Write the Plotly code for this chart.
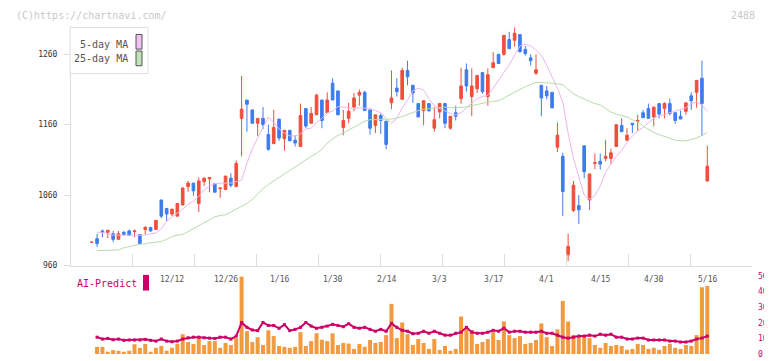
import plotly.graph_objects as go

# page is 772x361; the HTML body has an 8px margin, so the figure is 764x353
PAGE_W, PAGE_H = 772, 361
OFF = 8
W, H = PAGE_W - OFF, PAGE_H - OFF

# ---------------- data ----------------
idx = list(range(116))

opens = [993, 998, 1009, 1007, 1005, 997, 1007, 1009, 1008, 1004,
         1011, 1014, 1011, 1053, 1041, 1033, 1030, 1046, 1072, 1077,
         1048, 1079, 1083, 1076, 1069, 1068, 1084, 1072, 1169, 1195,
         1181, 1162, 1169, 1146, 1133, 1168, 1140, 1152, 1138, 1129,
         1183, 1162, 1174, 1195, 1177, 1219, 1208, 1156, 1169, 1185,
         1202, 1206, 1181, 1159, 1173, 1165, 1191, 1212, 1196, 1237,
         1216, 1190, 1180, 1190, 1155, 1178, 1190, 1155, 1177, 1197,
         1238, 1200, 1211, 1234, 1200, 1241, 1260, 1260, 1281, 1280,
         1288, 1267, 1255, 1233, 1216, 1208, 1206, 1128, 1115, 975,
         1038, 1045, 1130, 1053, 1105, 1108, 1112, 1112, 1129, 1159,
         1138, 1162, 1165, 1177, 1183, 1171, 1190, 1183, 1190, 1177,
         1172, 1179, 1201, 1206, 1226, 1080]
highs = [993, 1005, 1011, 1010, 1009, 1009, 1009, 1011, 1011, 1004,
         1016, 1014, 1024, 1053, 1041, 1040, 1048, 1071, 1080, 1077,
         1085, 1085, 1085, 1076, 1070, 1087, 1091, 1109, 1229, 1195,
         1181, 1169, 1185, 1160, 1181, 1168, 1152, 1152, 1145, 1190,
         1183, 1185, 1204, 1195, 1206, 1226, 1208, 1181, 1191, 1205,
         1210, 1208, 1181, 1174, 1176, 1165, 1237, 1226, 1241, 1251,
         1216, 1190, 1194, 1190, 1185, 1190, 1190, 1172, 1187, 1241,
         1247, 1240, 1230, 1234, 1240, 1263, 1260, 1287, 1292, 1298,
         1288, 1272, 1260, 1260, 1216, 1215, 1206, 1163, 1120, 1005,
         1080, 1060, 1130, 1090, 1119, 1119, 1138, 1126, 1160, 1169,
         1155, 1162, 1174, 1181, 1190, 1185, 1190, 1192, 1197, 1177,
         1180, 1191, 1206, 1223, 1251, 1130]
lows = [993, 986, 1000, 999, 993, 997, 1002, 1002, 1000, 991,
        1004, 1008, 1011, 1027, 1023, 1030, 1030, 1045, 1065, 1059,
        1036, 1073, 1064, 1064, 1056, 1067, 1071, 1072, 1115, 1150,
        1162, 1144, 1154, 1123, 1133, 1137, 1123, 1137, 1129, 1129,
        1155, 1162, 1174, 1155, 1177, 1195, 1174, 1145, 1162, 1179,
        1187, 1180, 1146, 1148, 1147, 1125, 1182, 1200, 1196, 1216,
        1191, 1171, 1159, 1178, 1150, 1169, 1155, 1153, 1166, 1190,
        1207, 1172, 1205, 1204, 1187, 1241, 1247, 1258, 1268, 1271,
        1262, 1258, 1244, 1231, 1172, 1196, 1183, 1121, 1030, 966,
        1036, 1019, 1084, 1039, 1097, 1096, 1108, 1104, 1129, 1150,
        1137, 1148, 1151, 1170, 1169, 1158, 1169, 1169, 1173, 1161,
        1168, 1174, 1181, 1184, 1144, 1079]
closes = [993, 991, 1007, 1010, 997, 1005, 1004, 1003, 1009, 991,
          1014, 1009, 1024, 1030, 1033, 1040, 1048, 1070, 1077, 1066,
          1080, 1084, 1085, 1064, 1070, 1087, 1074, 1105, 1182, 1189,
          1162, 1169, 1160, 1125, 1156, 1141, 1152, 1137, 1134, 1173,
          1158, 1176, 1202, 1166, 1195, 1195, 1174, 1166, 1179, 1198,
          1206, 1180, 1155, 1174, 1166, 1132, 1198, 1207, 1237, 1228,
          1205, 1171, 1194, 1180, 1167, 1190, 1162, 1172, 1172, 1215,
          1215, 1215, 1230, 1207, 1231, 1248, 1247, 1287, 1268, 1290,
          1264, 1261, 1251, 1238, 1198, 1201, 1184, 1145, 1065, 987,
          1074, 1039, 1093, 1090, 1106, 1104, 1115, 1120, 1160, 1150,
          1145, 1160, 1166, 1170, 1169, 1185, 1175, 1190, 1176, 1166,
          1168, 1191, 1194, 1223, 1190, 1101]

ma5 = [None, 1007, 1007, 1005, 1003, 1003, 1003, 1004, 1004, 1003,
       1003, 1005, 1006, 1012, 1023, 1029, 1034, 1040, 1047, 1051,
       1058, 1067, 1073, 1076, 1077, 1077, 1077, 1079, 1081, 1105,
       1126, 1141, 1155, 1171, 1163, 1154, 1148, 1144, 1144, 1147,
       1154, 1155, 1163, 1169, 1177, 1179, 1186, 1185, 1183, 1183,
       1184, 1183, 1183, 1180, 1177, 1169, 1162, 1169, 1184, 1195,
       1208, 1212, 1209, 1197, 1187, 1183, 1179, 1176, 1174, 1177,
       1184, 1191, 1197, 1200, 1202, 1212, 1224, 1234, 1245, 1259,
       1272, 1274, 1272, 1266, 1259, 1244, 1227, 1212, 1192, 1148,
       1112, 1084, 1060, 1054, 1059, 1073, 1092, 1104, 1115, 1123,
       1135, 1144, 1151, 1156, 1163, 1169, 1173, 1174, 1177, 1179,
       1181, 1184, 1190, 1192, 1188, 1179]
ma25 = [None, 981, 981, 982, 982, 982, 985, 987, 988, 990,
        991, 992, 992, 994, 997, 1001, 1003, 1004, 1008, 1012,
        1017, 1021, 1025, 1029, 1031, 1032, 1036, 1040, 1043, 1048,
        1054, 1062, 1069, 1075, 1080, 1086, 1091, 1096, 1101, 1106,
        1110, 1115, 1119, 1125, 1134, 1140, 1145, 1148, 1152, 1156,
        1160, 1165, 1167, 1167, 1167, 1167, 1168, 1169, 1172, 1174,
        1177, 1180, 1182, 1183, 1184, 1185, 1185, 1184, 1184, 1185,
        1185, 1187, 1189, 1191, 1192, 1193, 1194, 1198, 1202, 1206,
        1211, 1214, 1217, 1220, 1220, 1220, 1219, 1218, 1217, 1210,
        1204, 1200, 1196, 1193, 1190, 1188, 1183, 1178, 1175, 1173,
        1171, 1167, 1164, 1158, 1153, 1149, 1146, 1143, 1140, 1138,
        1137, 1137, 1139, 1141, 1145, 1149]

volume = [None, 4.6, 4.6, 1.5, 2.5, 2.1, 1.5, 2.1, 6.3, 4.0,
          6.5, 1.5, 4.0, 5.2, 2.1, 4.0, 6.5, 12.7, 7.7, 6.5,
          10.2, 5.8, 8.3, 8.3, 4.0, 7.1, 5.8, 10.2, 49.5, 14.6,
          7.7, 10.8, 5.8, 15.2, 11.5, 5.2, 4.6, 4.0, 4.6, 14.0,
          5.2, 8.3, 13.3, 9.2, 8.3, 13.3, 5.8, 7.1, 6.7, 3.3,
          6.5, 4.6, 9.0, 7.1, 7.7, 12.1, 32.1, 10.2, 20.2, 12.7,
          5.8, 9.6, 7.1, 3.3, 9.6, 2.7, 5.2, 2.1, 3.3, 24.0,
          16.5, 15.4, 6.5, 7.7, 9.6, 14.0, 9.0, 20.8, 12.1, 10.2,
          11.5, 6.5, 7.1, 9.0, 19.6, 10.8, 5.2, 15.8, 34.0, 20.8,
          12.1, 11.5, 11.5, 10.2, 5.8, 4.0, 7.1, 5.2, 5.8, 5.2,
          2.7, 3.3, 6.5, 5.8, 3.3, 4.0, 2.7, 5.2, 6.5, 4.0,
          3.3, 5.8, 5.2, 12.1, 42.7, 43.5]
ai_predict = [None, 10.8, 9.6, 10.0, 9.2, 9.6, 8.8, 9.0, 9.0, 9.0,
              9.4, 8.8, 8.3, 9.6, 8.3, 7.9, 8.3, 9.6, 10.4, 10.8,
              10.8, 10.4, 10.2, 10.0, 10.8, 10.8, 9.6, 11.5, 20.2, 17.1,
              15.4, 15.0, 20.2, 18.3, 18.3, 16.5, 18.8, 15.0, 15.8, 17.1,
              20.2, 17.9, 16.5, 17.1, 17.9, 19.0, 18.3, 17.5, 19.4, 17.1,
              16.5, 17.1, 15.8, 14.6, 15.8, 14.6, 19.6, 17.1, 15.2, 14.6,
              13.0, 13.3, 14.6, 13.3, 14.6, 13.3, 12.1, 12.1, 13.3, 14.0,
              17.1, 14.0, 13.3, 13.3, 14.0, 15.2, 14.6, 16.5, 14.0, 14.6,
              14.6, 14.0, 14.0, 14.0, 14.6, 13.3, 13.3, 12.1, 10.8, 10.2,
              10.8, 11.5, 11.5, 12.1, 11.5, 12.7, 12.1, 12.7, 10.8, 10.8,
              9.6, 9.6, 10.2, 10.2, 9.0, 9.0, 9.0, 9.0, 8.3, 8.3,
              7.7, 7.7, 8.3, 9.6, 10.2, 11.5]

date_label_idx = [15, 25, 35, 45, 55, 65, 75, 85, 95, 105, 115]
date_labels = ["12/12", "12/26", "1/16", "1/30", "2/14", "3/3",
               "3/17", "4/1", "4/15", "4/30", "5/16"]
price_ticks = [960, 1060, 1160, 1260]
volume_ticks = [0, 10, 20, 30, 40, 50]

# ---------------- styling ----------------
RED = "#f04e3c"
BLUE = "#3e7ced"
ORANGE = "#f29a40"
CRIMSON = "#cc0066"
PINK = "#e9b6ea"
GREEN = "#b6dcaa"
AXIS = "#dddddd"
MONO = "DejaVu Sans Mono"


def px_x(p):
    """page pixel x -> paper fraction"""
    return (p - OFF) / W


def px_y(p):
    """page pixel y (from top) -> paper fraction"""
    return (PAGE_H - p) / H


XR = [-3.87, 123.35]

fig = go.Figure()
fig.add_trace(go.Candlestick(
    x=idx, open=opens, high=highs, low=lows, close=closes,
    increasing=dict(line=dict(color=RED, width=1), fillcolor=RED),
    decreasing=dict(line=dict(color=BLUE, width=1), fillcolor=BLUE),
    whiskerwidth=0, xaxis="x", yaxis="y", hoverinfo="skip", showlegend=False))
fig.add_trace(go.Scatter(x=idx, y=ma5, mode="lines", line=dict(color=PINK, width=1),
                         xaxis="x", yaxis="y", showlegend=False, hoverinfo="skip"))
fig.add_trace(go.Scatter(x=idx, y=ma25, mode="lines", line=dict(color=GREEN, width=1),
                         xaxis="x", yaxis="y", showlegend=False, hoverinfo="skip"))
fig.add_trace(go.Bar(x=idx, y=volume, marker=dict(color=ORANGE, line=dict(width=0)),
                     width=0.75, xaxis="x2", yaxis="y2", showlegend=False, hoverinfo="skip"))
fig.add_trace(go.Scatter(x=idx, y=ai_predict, mode="lines+markers",
                         line=dict(color=CRIMSON, width=2),
                         marker=dict(color=CRIMSON, size=3, symbol="square"),
                         xaxis="x2", yaxis="y2", showlegend=False, hoverinfo="skip"))

dom_x = [px_x(71), px_x(752)]

fig.update_layout(
    width=W, height=H,
    margin=dict(l=0, r=0, t=0, b=0),
    paper_bgcolor="white", plot_bgcolor="white",
    font=dict(family=MONO, size=8, color="#444"),
    showlegend=False,
    xaxis=dict(domain=dom_x, range=XR, anchor="y", showline=True, linecolor=AXIS,
               linewidth=1, ticks="inside", ticklen=12, tickcolor=AXIS,
               tickmode="linear", tick0=XR[0], dtick=(XR[1] - XR[0]) / 11,
               showticklabels=False, showgrid=False, zeroline=False,
               rangeslider=dict(visible=False), fixedrange=True),
    yaxis=dict(domain=[px_y(268), px_y(22)], range=[959.0, 1300.7], anchor="x",
               showline=True, linecolor=AXIS, linewidth=1, ticks="outside",
               ticklen=6, tickcolor=AXIS, tickvals=price_ticks,
               tickfont=dict(family=MONO, size=8, color="#333"),
               ticklabelstandoff=5, showgrid=False, zeroline=False),
    xaxis2=dict(domain=dom_x, range=XR, anchor="y2", visible=False),
    yaxis2=dict(domain=[px_y(358), px_y(278)], range=[0, 50], anchor="x2",
                side="right", tickvals=volume_ticks, ticks="",
                tickfont=dict(family=MONO, size=8, color=CRIMSON),
                ticklabelstandoff=5, showline=False, showgrid=False, zeroline=False),
)

ann = []
for i, t in zip(date_label_idx, date_labels):
    ann.append(dict(x=i, y=px_y(282), xref="x2", yref="paper", text=t,
                    showarrow=False, xanchor="center", yanchor="middle",
                    font=dict(family=MONO, size=8, color="#555")))
ann.append(dict(x=px_x(14), y=px_y(12), xref="paper", yref="paper",
                text="(C)https://chartnavi.com/", showarrow=False,
                xanchor="left", yanchor="middle",
                font=dict(family=MONO, size=10, color="#c8c8c8")))
ann.append(dict(x=px_x(757), y=px_y(12), xref="paper", yref="paper",
                text="2488", showarrow=False, xanchor="right", yanchor="middle",
                font=dict(family=MONO, size=10, color="#c8c8c8")))
ann.append(dict(x=px_x(130), y=px_y(41), xref="paper", yref="paper",
                text="5-day MA", showarrow=False, xanchor="right", yanchor="middle",
                font=dict(family=MONO, size=10, color="#555")))
ann.append(dict(x=px_x(130), y=px_y(56), xref="paper", yref="paper",
                text="25-day MA", showarrow=False, xanchor="right", yanchor="middle",
                font=dict(family=MONO, size=10, color="#555")))
ann.append(dict(x=px_x(75), y=px_y(286), xref="paper", yref="paper",
                text="AI-Predict", showarrow=False, xanchor="left", yanchor="middle",
                font=dict(family=MONO, size=10, color=CRIMSON)))
fig.update_layout(annotations=ann)

shapes = [
    dict(type="rect", xref="paper", yref="paper", x0=px_x(70), x1=px_x(148),
         y0=px_y(71), y1=px_y(24), fillcolor="white", line=dict(color=AXIS, width=1),
         layer="above"),
    dict(type="rect", xref="paper", yref="paper", x0=px_x(136), x1=px_x(142),
         y0=px_y(46), y1=px_y(31), fillcolor="#f0c2f0", line=dict(color="#555", width=1),
         layer="above"),
    dict(type="rect", xref="paper", yref="paper", x0=px_x(136), x1=px_x(142),
         y0=px_y(63), y1=px_y(48), fillcolor="#c2e2b6", line=dict(color="#555", width=1),
         layer="above"),
    dict(type="rect", xref="paper", yref="paper", x0=px_x(143), x1=px_x(149),
         y0=px_y(293), y1=px_y(277), fillcolor=CRIMSON, line=dict(width=0),
         layer="above"),
]
fig.update_layout(shapes=shapes)

fig.write_html("out.html")
